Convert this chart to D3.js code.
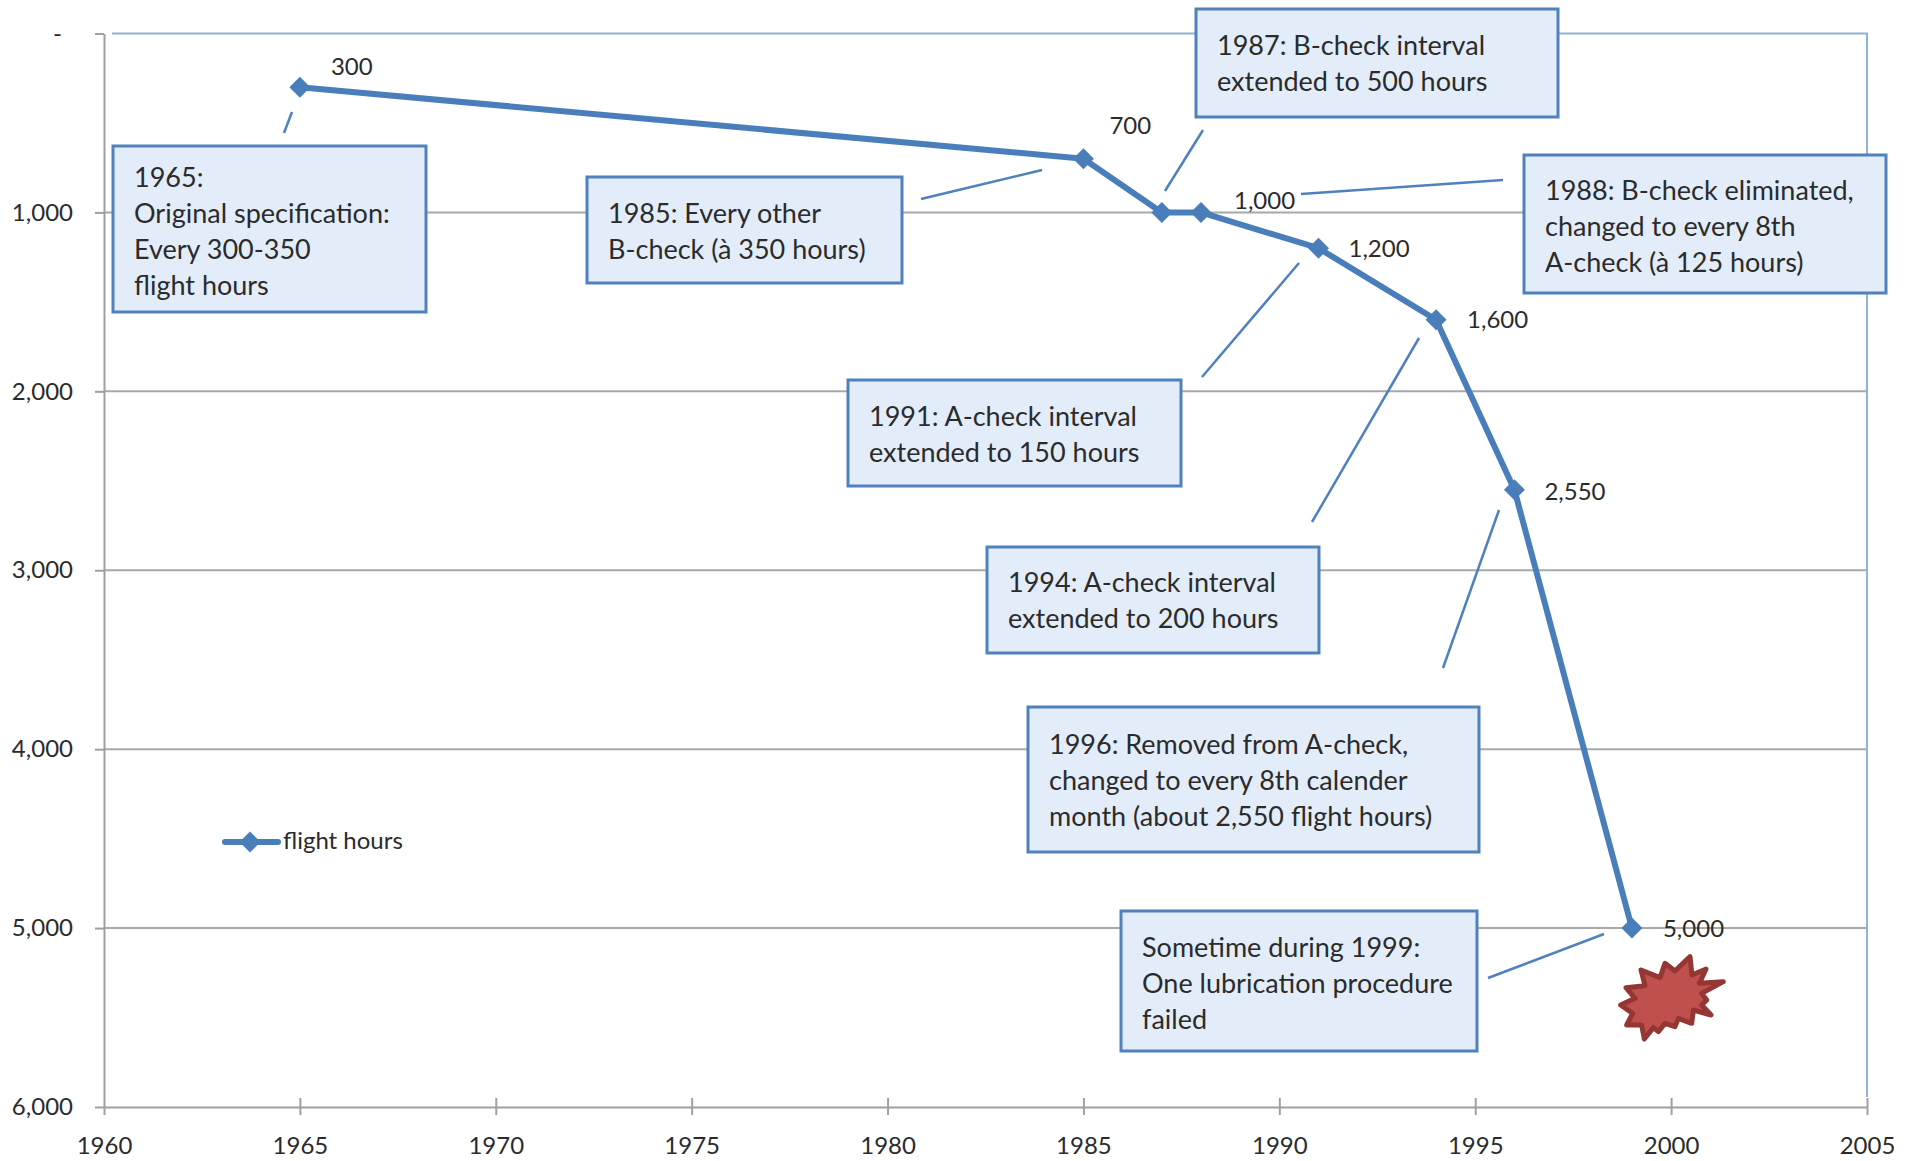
<!DOCTYPE html>
<html>
<head>
<meta charset="utf-8">
<script src="https://cdnjs.cloudflare.com/ajax/libs/d3/7.8.5/d3.min.js"></script>
<style>
  html, body { margin: 0; padding: 0; background: #fff; }
  svg { display: block; }
  text { font-family: Lato, sans-serif; font-size: 24px; fill: #2b2b2b; }
  .grid { stroke: #a8a8a8; stroke-width: 2; }
  .axis path, .axis line { stroke: #a0a0a0; stroke-width: 2; }
  .border { fill: none; stroke: #8db3d8; stroke-width: 2; }
  .note rect { fill: #e3edf9; stroke: #4f81bd; stroke-width: 3; }
  .note text { font-size: 27px; }
  .leader { stroke: #4f81bd; stroke-width: 2.5; }
  .series { fill: none; stroke: #4a7ebb; stroke-width: 6; stroke-linejoin: round; }
  .marker { fill: #4a7ebb; }
</style>
</head>
<body>
<script>
const WIDTH = 1916,
      HEIGHT = 1161;

// values
const years = [1965, 1985, 1987, 1988, 1991, 1994, 1996, 1999];
const flightHours = [300, 700, 1000, 1000, 1200, 1600, 2550, 5000];
const seriesName = "flight hours";

const xTicks = [1960, 1965, 1970, 1975, 1980, 1985, 1990, 1995, 2000, 2005];
const yTicks = [0, 1000, 2000, 3000, 4000, 5000, 6000];

const noteTexts = [
  ["1965:", "Original specification:", "Every 300-350", "flight hours"],
  ["1985: Every other", "B-check (à 350 hours)"],
  ["1987: B-check interval", "extended to 500 hours"],
  ["1988: B-check eliminated,", "changed to every 8th", "A-check (à 125 hours)"],
  ["1991: A-check interval", "extended to 150 hours"],
  ["1994: A-check interval", "extended to 200 hours"],
  ["1996: Removed from A-check,", "changed to every 8th calender", "month (about 2,550 flight hours)"],
  ["Sometime during 1999:", "One lubrication procedure", "failed"]
];

/*
  Layout, in page pixels
*/
let margin = { top: 33.5, bottom: 54, left: 104, right: 49 };

// x, y, w, h, first baseline offset for each note
const noteBoxes = [
  [113, 146, 313, 166, 41],
  [587, 177, 315, 106, 46],
  [1196, 9, 362, 108, 46],
  [1524, 155, 362, 138, 45],
  [848, 380, 333, 106, 46],
  [987, 547, 332, 106, 45],
  [1028, 707, 451, 145, 47],
  [1121, 911, 356, 140, 46]
];

// x1, y1, x2, y2 of the hand drawn leader lines
const leaders = [
  [284, 133, 292, 112],
  [921, 199, 1042, 170],
  [1165, 191, 1203, 130],
  [1301, 194, 1503, 180],
  [1202, 377, 1299, 263],
  [1312, 522, 1419, 338],
  [1443, 668, 1499, 510],
  [1488, 978, 1604, 934]
];

// label offset from its point, null = no label
const labelOffsets = [
  [31, -12], [26, -25], null, [33, -3], [30, 9], [31, 8], [30, 10], [31, 9]
];

// burst outline, in 3x crop pixels from (1610, 945)
const burst = [
  [240,35],[246,90],[288,72],[268,115],[340,110],[275,145],[290,165],[275,180],
  [303,210],[250,195],[245,235],[205,220],[195,245],[165,235],[145,260],[130,248],
  [103,282],[95,240],[50,240],[68,205],[32,180],[75,160],[48,128],[105,122],
  [93,75],[150,98],[165,55],[195,78]
];

let svg = d3.select("body").append("svg")
  .attr("width", WIDTH)
  .attr("height", HEIGHT);

let x = d3.scaleLinear()
  .domain([1960, 2005])
  .range([margin.left, WIDTH - margin.right]);

let y = d3.scaleLinear()
  .domain([0, 6000])
  .range([margin.top, HEIGHT - margin.bottom]);

// gridlines
svg.append("g").selectAll("line")
  .data(yTicks.slice(1, -1))
  .enter().append("line")
    .attr("class", "grid")
    .attr("x1", margin.left)
    .attr("x2", x(2005))
    .attr("y1", d => y(d))
    .attr("y2", d => y(d));

// blue plot border, top and right only
svg.append("path")
  .attr("class", "border")
  .attr("d", "M" + (margin.left + 8) + "," + y(0) + "H" + x(2005) + "V" + (y(6000) - 10));

// axes
let yAxis = svg.append("g")
  .attr("class", "axis")
  .attr("transform", "translate(" + margin.left + ",0)")
  .call(d3.axisLeft(y)
    .tickValues(yTicks)
    .tickSize(9)
    .tickSizeOuter(0)
    .tickPadding(22)
    .tickFormat(d => d === 0 ? "-" : d3.format(",")(d)));

// the zero dash sits further left than the other labels
yAxis.selectAll(".tick text")
  .filter(d => d === 0)
  .attr("dx", -11);

let xAxis = svg.append("g")
  .attr("class", "axis")
  .attr("transform", "translate(0," + y(6000) + ")")
  .call(d3.axisBottom(x)
    .tickValues(xTicks)
    .tickSize(8)
    .tickSizeOuter(0)
    .tickPadding(22)
    .tickFormat(d3.format("d")));

// ticks cross the axis, apart from the first one
xAxis.selectAll(".tick line")
  .attr("y1", d => d === 1960 ? 0 : -9);

// notes
let notes = svg.append("g").selectAll(".note")
  .data(noteTexts)
  .enter().append("g")
    .attr("class", "note");

notes.append("rect")
  .attr("x", (d, i) => noteBoxes[i][0])
  .attr("y", (d, i) => noteBoxes[i][1])
  .attr("width", (d, i) => noteBoxes[i][2])
  .attr("height", (d, i) => noteBoxes[i][3]);

notes.each(function(lines, i) {
  let box = noteBoxes[i];
  d3.select(this).selectAll("text")
    .data(lines)
    .enter().append("text")
      .attr("x", box[0] + 21)
      .attr("y", (d, j) => box[1] + box[4] + j * 36)
      .text(d => d);
});

svg.append("g").selectAll("line")
  .data(leaders)
  .enter().append("line")
    .attr("class", "leader")
    .attr("x1", d => d[0])
    .attr("y1", d => d[1])
    .attr("x2", d => d[2])
    .attr("y2", d => d[3]);

// series
let line = d3.line()
  .x((d, i) => x(years[i]))
  .y(d => y(d));

svg.append("path")
  .attr("class", "series")
  .attr("d", line(flightHours));

let diamond = d3.symbol().type(d3.symbolDiamond2).size(280);

svg.append("g").selectAll("path")
  .data(flightHours)
  .enter().append("path")
    .attr("class", "marker")
    .attr("d", diamond)
    .attr("transform", (d, i) => "translate(" + x(years[i]) + "," + y(d) + ")");

// data labels, the 1987 point has none
svg.append("g").selectAll("text")
  .data(flightHours.map((d, i) => ({ year: years[i], value: d, offset: labelOffsets[i] }))
    .filter(d => d.offset))
  .enter().append("text")
    .attr("x", d => x(d.year) + d.offset[0])
    .attr("y", d => y(d.value) + d.offset[1])
    .text(d => d3.format(",")(d.value));

// legend
let legend = svg.append("g")
  .attr("transform", "translate(225,842)");

legend.append("line")
  .attr("x2", 53)
  .attr("stroke", "#4a7ebb")
  .attr("stroke-width", 6)
  .attr("stroke-linecap", "round");

legend.append("path")
  .attr("class", "marker")
  .attr("d", diamond)
  .attr("transform", "translate(25,0)");

legend.append("text")
  .attr("x", 58)
  .attr("y", 7)
  .text(seriesName);

// burst shape
svg.append("polygon")
  .attr("points", burst.map(p => (1610 + p[0] / 3) + "," + (945 + p[1] / 3)).join(" "))
  .attr("fill", "#c0504d")
  .attr("stroke", "#943634")
  .attr("stroke-width", 5)
  .attr("stroke-linejoin", "round");
</script>
</body>
</html>
